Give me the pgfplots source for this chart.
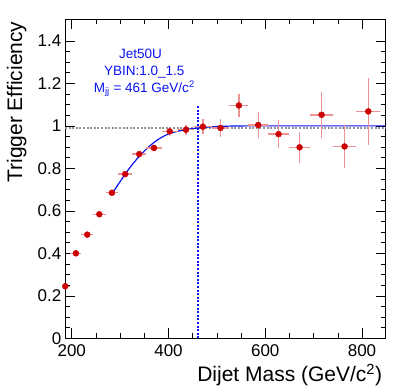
\documentclass[border=0pt]{standalone}
\usepackage{pgfplots}
\pgfplotsset{compat=1.18}
\usepackage{fontspec}
\setmainfont{Liberation Sans}
\definecolor{ptcol}{RGB}{204,0,0}
\definecolor{errcol}{RGB}{238,145,145}
\definecolor{fitcol}{RGB}{10,20,240}
\definecolor{refgray}{RGB}{150,150,150}
\begin{document}
\begin{tikzpicture}
\useasboundingbox (0,0) rectangle (406pt,389pt);
\begin{axis}[
  scale only axis,
  width=320.7pt, height=319.3pt,
  at={(65pt,50.7pt)}, anchor=south west,
  xmin=186, xmax=849,
  ymin=0, ymax=1.503,
  xtick={200,400,600,800},
  ytick={0,0.2,0.4,0.6,0.8,1,1.2,1.4},
  yticklabels={0,0.2,0.4,0.6,0.8,1,1.2,1.4},
  minor x tick num=3, minor y tick num=3,
  tick align=inside,
  major tick length=10pt, minor tick length=5pt,
  tick style={black, line width=0.6pt},
  axis line style={line width=0.9pt},
  /pgf/number format/assume math mode=true,
  ticklabel style={font=\fontsize{17}{17}\selectfont},
  yticklabel style={inner sep=1pt, xshift=-2.5pt},
  xticklabel style={inner sep=1pt, yshift=-5pt},
  xlabel={Dijet Mass (GeV/c\textsuperscript{2})},
  ylabel={Trigger Efficiency},
  label style={font=\fontsize{21}{21}\selectfont},
  xlabel style={at={(axis description cs:1,-0.136)}, anchor=base east},
  ylabel style={at={(axis description cs:-0.134,1.003)}, anchor=base east},
]
% 99% reference lines
\addplot[refgray, dash pattern=on 2pt off 1.6pt, line width=1.4pt] coordinates {(186,0.99) (849,0.99)};
\addplot[fitcol, dash pattern=on 2pt off 1.6pt, line width=1.4pt] coordinates {(461,0) (461,1.1)};
% fit curve
\addplot[fitcol, line width=1.2pt, smooth] coordinates {
(283,0.680) (300,0.738) (320,0.803) (340,0.858) (360,0.903) (380,0.938)
(400,0.962) (420,0.975) (440,0.984) (461,0.990) (480,0.994) (500,0.997)
(530,0.999) (570,1.000) (650,1.000) (849,1.000)};
% data
\addplot[only marks, mark=*, mark size=3pt, mark options={fill=ptcol, draw=ptcol},
  error bars/.cd, x dir=both, x explicit, y dir=both, y explicit,
  error bar style={errcol, line width=1.4pt}, error mark=none]
  table[x=x, y=y, x error=ex, y error=ey] {
x y ex ey
186.5 0.245 10.5 0.008
208.5 0.400 11.5 0.008
232 0.488 12 0.008
257 0.584 13 0.009
283 0.685 13 0.010
310.5 0.773 14.5 0.011
339.5 0.867 14.5 0.012
370 0.896 16 0.013
402.5 0.974 16.5 0.020
436 0.982 17 0.024
471 0.996 18 0.035
507.5 0.990 18.5 0.041
545.5 1.096 19.5 0.055
585.5 1.004 20.5 0.059
627.5 0.961 21.5 0.065
671 0.899 22 0.073
716.5 1.052 23.5 0.107
764 0.903 24 0.100
813 1.068 25 0.158
};
\node[fitcol, font=\fontsize{13.5}{13.5}\selectfont, anchor=base] at (axis cs:342,1.318) {Jet50U};
\node[fitcol, font=\fontsize{13.5}{13.5}\selectfont, anchor=base] at (axis cs:350,1.239) {YBIN:1.0\_1.5};
\node[fitcol, font=\fontsize{13.5}{13.5}\selectfont, anchor=base] at (axis cs:350,1.158) {M\textsubscript{jj} = 461 GeV/c\textsuperscript{2}};
\end{axis}
\end{tikzpicture}
\end{document}
